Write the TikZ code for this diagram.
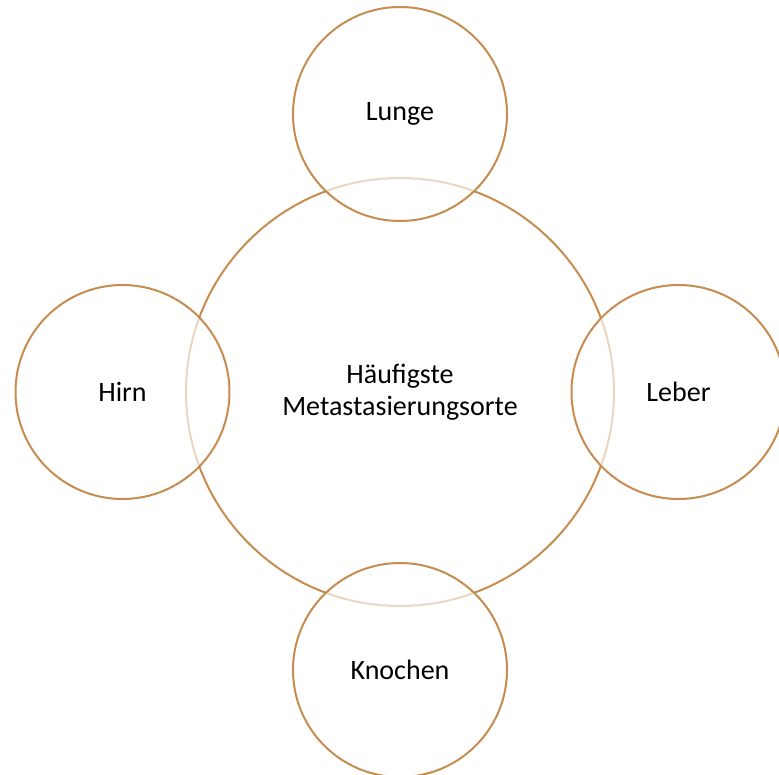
\documentclass[tikz,border=0pt]{standalone}
\usepackage{fontspec}
\setmainfont{Carlito}
\definecolor{brn}{RGB}{198,140,80}
\begin{document}
\begin{tikzpicture}[x=1pt,y=-1pt, font=\fontsize{28}{32}\selectfont,
 ring/.style={circle,draw=brn,line width=2pt,inner sep=0pt,align=center},
 bigc/.style={ring,minimum size=428pt},
 smc/.style={ring,minimum size=214pt,fill=white,fill opacity=.65,text opacity=1}]
\useasboundingbox (0,0) rectangle (779,775);
\clip (0,0) rectangle (779,775);
\node[bigc] (M) at (400,392) {H\"aufigste\\Metastasierungsorte};
\node[smc] (L) at (400,114) {Lunge};
\node[smc] (H) at (122.5,392) {Hirn};
\node[smc] (B) at (678.5,392) {Leber};
\node[smc] (K) at (400,670) {Knochen};
\end{tikzpicture}
\end{document}
